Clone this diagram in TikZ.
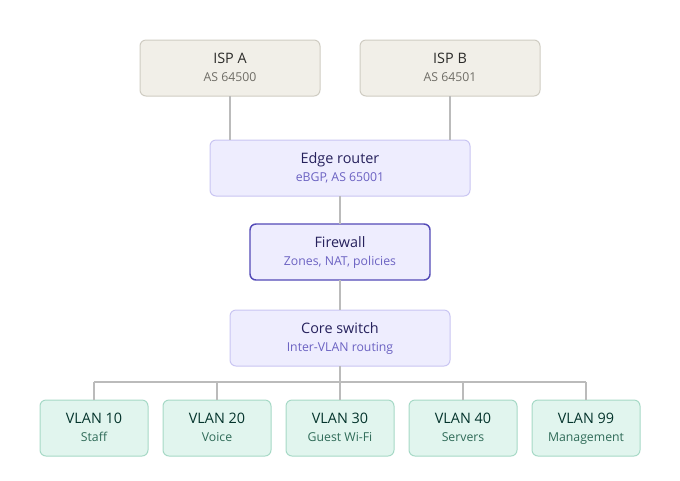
\documentclass[tikz,border=0pt]{standalone}
\usepackage{fontspec}
\setmainfont{Open Sans}
\usetikzlibrary{positioning}

\definecolor{ispfill}{HTML}{F1EFE8}
\definecolor{ispdraw}{HTML}{CFCCC2}
\definecolor{isptext}{HTML}{2C2C2A}
\definecolor{ispsub}{HTML}{6F6D66}
\definecolor{netfill}{HTML}{EEEDFE}
\definecolor{netdraw}{HTML}{C9C5F2}
\definecolor{nettext}{HTML}{26215C}
\definecolor{netsub}{HTML}{6B62C2}
\definecolor{fwdraw}{HTML}{534AB7}
\definecolor{vlanfill}{HTML}{E1F5EE}
\definecolor{vlandraw}{HTML}{A6D9C6}
\definecolor{vlantext}{HTML}{04342C}
\definecolor{vlansub}{HTML}{2F6B58}
\definecolor{wire}{HTML}{BBBBBB}

\newcommand{\boxlabel}[2]{\strut#1\\[0pt]{\fontsize{9.2}{11}\selectfont\color{subtext}\strut#2}}

\tikzset{
  box/.style={rectangle, rounded corners=4.5pt, minimum height=42pt, align=center,
    inner sep=2pt, outer sep=0pt, font=\fontsize{10.8}{14}\selectfont, line width=0.75pt},
  isp/.style={box, fill=ispfill, draw=ispdraw, text=isptext, minimum width=135pt,
    execute at begin node=\colorlet{subtext}{ispsub}},
  net/.style={box, fill=netfill, draw=netdraw, text=nettext,
    execute at begin node=\colorlet{subtext}{netsub}},
  fw/.style={net, draw=fwdraw, line width=1.1pt},
  vlan/.style={box, fill=vlanfill, draw=vlandraw, text=vlantext, minimum width=81pt,
    execute at begin node=\colorlet{subtext}{vlansub}},
  link/.style={draw=wire, line width=0.9pt}
}

\begin{document}
\begin{tikzpicture}[x=0.75pt, y=-0.75pt]
  \useasboundingbox (0,0) rectangle (680,480);

  % upstream providers
  \node (ispa) [isp] at (230,68) {\boxlabel{ISP A}{AS 64500}};
  \node (ispb) [isp] at (450,68) {\boxlabel{ISP B}{AS 64501}};

  % edge, firewall, core
  \node (edge) [net, minimum width=195pt] at (340,168) {\boxlabel{Edge router}{eBGP, AS 65001}};
  \node (fw) [fw, minimum width=135pt] at (340,252) {\boxlabel{Firewall}{Zones, NAT, policies}};
  \node (core) [net, minimum width=165pt] at (340,338) {\boxlabel{Core switch}{Inter-VLAN routing}};

  % access VLANs
  \node (v30) [vlan] at (340,428) {\boxlabel{VLAN 30}{Guest Wi-Fi}};
  \node (v20) [vlan, left=11.25pt of v30] {\boxlabel{VLAN 20}{Voice}};
  \node (v10) [vlan, left=11.25pt of v20] {\boxlabel{VLAN 10}{Staff}};
  \node (v40) [vlan, right=11.25pt of v30] {\boxlabel{VLAN 40}{Servers}};
  \node (v99) [vlan, right=11.25pt of v40] {\boxlabel{VLAN 99}{Management}};

  \coordinate (bus) at (340,382);

  \draw [link] (ispa) -- (ispa |- edge.north);
  \draw [link] (ispb) -- (ispb |- edge.north);
  \draw [link] (edge) -- (fw);
  \draw [link] (fw) -- (core);
  \draw [link] (core) -- (bus);
  \draw [link] (v10 |- bus) -- (v99 |- bus);
  \foreach \v in {v10,v20,v30,v40,v99}
    \draw [link] (\v.north) -- (\v |- bus);
\end{tikzpicture}
\end{document}
